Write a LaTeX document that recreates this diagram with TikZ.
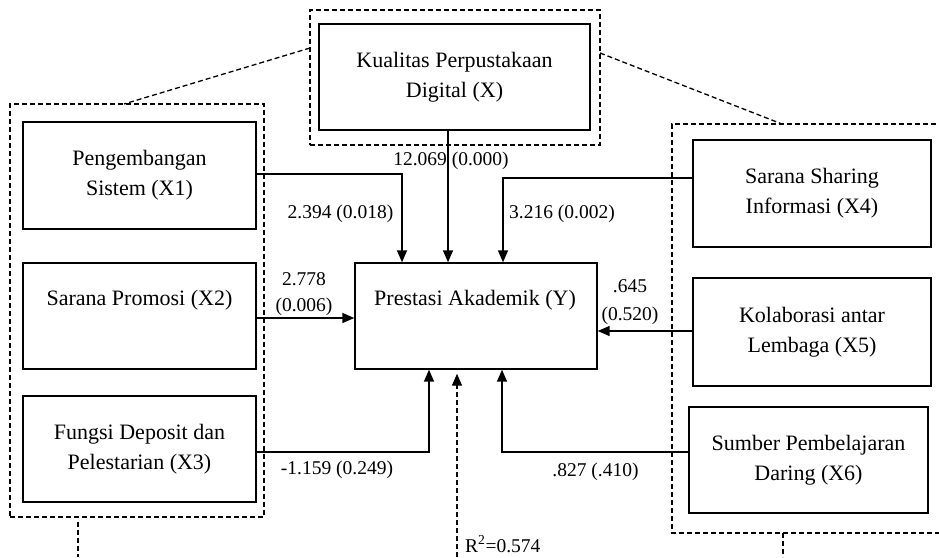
\documentclass[tikz,border=0pt]{standalone}
\usepackage{fontspec}
\setmainfont{Liberation Serif}
\usetikzlibrary{arrows.meta}
\begin{document}
\begin{tikzpicture}[x=1pt,y=-1pt,
 box/.style={draw, line width=1.4pt, rectangle, align=center, font=\fontsize{22}{30}\selectfont, inner sep=0pt},
 boxtext/.style={font=\fontsize{22}{30}\selectfont, anchor=base, inner sep=0pt},
 grp/.style={draw, line width=1.3pt, dash pattern=on 5pt off 3pt, rectangle, inner sep=0pt},
 dline/.style={line width=1.3pt, dash pattern=on 5pt off 3pt},
 arr/.style={line width=1.5pt, -{Triangle[length=12pt,width=10pt]}},
 lbl/.style={font=\fontsize{19.5}{26}\selectfont, anchor=base, inner sep=0pt},
]
\useasboundingbox (0,0) rectangle (939,557);

% group frames
\node[grp, minimum width=290pt, minimum height=135pt] (gX) at (455,77.5) {};
\node[grp, minimum width=254pt, minimum height=413pt] (gL) at (137,310.5) {};
\coordinate (gRtr) at (960,124);
\coordinate (gRbl) at (672,533);
\coordinate (gRbr) at (960,533);
\draw[dline] (gRtr) -| (gRbl) -- (gRbr);

% boxes
\node[box, minimum width=271pt, minimum height=106pt] (X) at (454.5,77) {Kualitas Perpustakaan\\Digital (X)};
\node[box, minimum width=233pt, minimum height=107pt] (X1) at (139.5,175.5) {Pengembangan\\Sistem (X1)};
\node[box, minimum width=233pt, minimum height=106pt] (X2) at (139.5,316) {};
\node[boxtext] (X2t) at (139.5,305) {Sarana Promosi (X2)};
\node[box, minimum width=233pt, minimum height=106pt] (X3) at (139.5,449) {Fungsi Deposit dan\\Pelestarian (X3)};
\node[box, minimum width=242pt, minimum height=106pt] (Y) at (476,316) {};
\node[boxtext] (Yt) at (475,305) {Prestasi Akademik (Y)};
\node[box, minimum width=238pt, minimum height=107pt] (X4) at (812,193.5) {Sarana Sharing\\Informasi (X4)};
\node[box, minimum width=238pt, minimum height=108pt] (X5) at (812,332) {Kolaborasi antar\\Lembaga (X5)};
\node[box, minimum width=239pt, minimum height=106pt] (X6) at (808.5,460) {Sumber Pembelajaran\\Daring (X6)};

% dashed links
\coordinate (lA) at (310,48);
\coordinate (lB) at (124,104);
\coordinate (rA) at (600,53);
\coordinate (rB) at (782,124);
\coordinate (sL) at (78,522);
\coordinate (sLb) at (78,557);
\coordinate (sR) at (783,533);
\coordinate (sRb) at (783,557);
\coordinate (rq) at (457,557);
\draw[dline] (lA) -- (lB);
\draw[dline] (rA) -- (rB);
\draw[dline] (sL) -- (sLb);
\draw[dline] (sR) -- (sRb);
\draw[dline, -{Triangle[length=12pt,width=10pt]}, shorten >=4pt] (rq) -- ([xshift=-19pt]Y.south);

% arrows
\draw[arr] ([xshift=-6.5pt]X.south) -- ([xshift=-28pt]Y.north);
\draw[arr] ([yshift=1.5pt]X1.east) -| ([xshift=-74pt]Y.north);
\draw[arr] ([yshift=-2pt]X2.east) -- ([yshift=-2pt]Y.west);
\draw[arr] ([yshift=-3pt]X3.east) -| ([xshift=-47pt]Y.south);
\draw[arr] ([yshift=15.5pt]X4.west) -| ([xshift=27pt]Y.north);
\draw[arr] ([yshift=1pt]X5.west) -- ([yshift=1pt]X5.west -| Y.east);
\draw[arr] ([yshift=8pt]X6.west) -| ([xshift=26pt]Y.south);

% labels
\node[lbl] (l0) at (451,165) {12.069 (0.000)};
\node[lbl] (l1) at (340.5,218) {2.394 (0.018)};
\node[lbl] (l4) at (562,218) {3.216 (0.002)};
\node[lbl] (l2a) at (304,285) {2.778};
\node[lbl] (l2b) at (304,311.5) {(0.006)};
\node[lbl] (l5a) at (630,292) {.645};
\node[lbl] (l5b) at (630,320) {(0.520)};
\node[lbl] (l3) at (337,474) {-1.159 (0.249)};
\node[lbl] (l6) at (595.5,476) {.827 (.410)};
\node[lbl, anchor=base west] (r2) at (465,552) {R\textsuperscript{2}=0.574};
\end{tikzpicture}
\end{document}
